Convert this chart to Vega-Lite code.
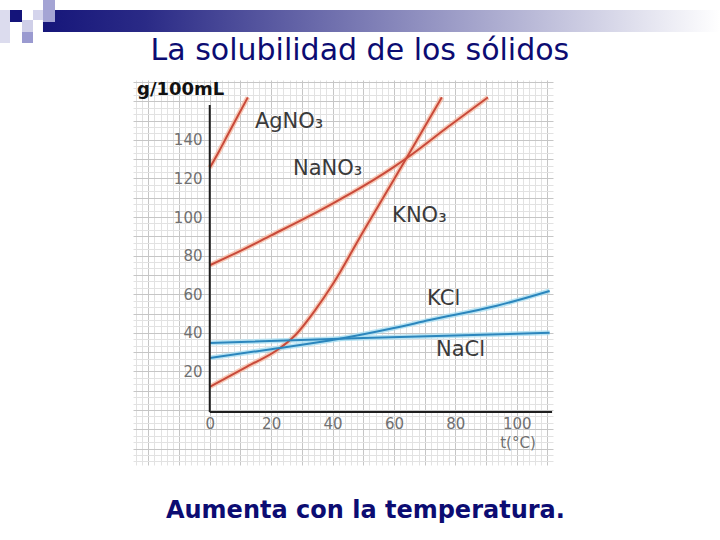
{
  "$schema": "https://vega.github.io/schema/vega-lite/v6.json",
  "width": 420,
  "height": 385,
  "autosize": "none",
  "padding": {"left": 133, "top": 80, "right": 167, "bottom": 75},
  "background": "white",
  "config": {"view": {"stroke": null}, "font": "DejaVu Sans"},
  "datasets": {
    "curves": [
      {"series": "AgNO3", "t": 0, "v": 125.5},
      {"series": "AgNO3", "t": 3, "v": 134},
      {"series": "AgNO3", "t": 6, "v": 143},
      {"series": "AgNO3", "t": 9, "v": 152},
      {"series": "AgNO3", "t": 12.4, "v": 162},
      {"series": "NaNO3", "t": 0, "v": 75},
      {"series": "NaNO3", "t": 10, "v": 82.5},
      {"series": "NaNO3", "t": 20, "v": 90.5},
      {"series": "NaNO3", "t": 30, "v": 98.5},
      {"series": "NaNO3", "t": 40, "v": 107},
      {"series": "NaNO3", "t": 50, "v": 116},
      {"series": "NaNO3", "t": 60, "v": 126},
      {"series": "NaNO3", "t": 65, "v": 131.5},
      {"series": "NaNO3", "t": 77, "v": 146},
      {"series": "NaNO3", "t": 90.6, "v": 162},
      {"series": "KNO3", "t": 0, "v": 12},
      {"series": "KNO3", "t": 12, "v": 22.4},
      {"series": "KNO3", "t": 22.8, "v": 32},
      {"series": "KNO3", "t": 28, "v": 39},
      {"series": "KNO3", "t": 34, "v": 51},
      {"series": "KNO3", "t": 40, "v": 65},
      {"series": "KNO3", "t": 50, "v": 92.5},
      {"series": "KNO3", "t": 60, "v": 119.5},
      {"series": "KNO3", "t": 65, "v": 133},
      {"series": "KNO3", "t": 75.6, "v": 162},
      {"series": "KCl", "t": 0, "v": 27},
      {"series": "KCl", "t": 20, "v": 31.5},
      {"series": "KCl", "t": 39, "v": 36},
      {"series": "KCl", "t": 60, "v": 42.5},
      {"series": "KCl", "t": 71.6, "v": 46.6},
      {"series": "KCl", "t": 93.5, "v": 54},
      {"series": "KCl", "t": 110.7, "v": 61.7},
      {"series": "NaCl", "t": 0, "v": 34.7},
      {"series": "NaCl", "t": 50, "v": 37.3},
      {"series": "NaCl", "t": 110.7, "v": 40}
    ],
    "labels": [
      {"label": "AgNO₃", "t": 14.7, "v": 146},
      {"label": "NaNO₃", "t": 27.1, "v": 121.8},
      {"label": "KNO₃", "t": 59.4, "v": 97.4},
      {"label": "KCl", "t": 70.8, "v": 54.4},
      {"label": "NaCl", "t": 73.7, "v": 28}
    ]
  },
  "resolve": {"scale": {"color": "independent"}},
  "layer": [
    {
      "data": {"name": "curves"},
      "mark": {"type": "line", "strokeWidth": 5, "opacity": 0.75, "interpolate": "monotone"},
      "encoding": {
        "x": {
          "field": "t",
          "type": "quantitative",
          "scale": {"domain": [-25, 111.8], "nice": false, "zero": false},
          "axis": {
            "orient": "bottom",
            "offset": -55,
            "title": null,
            "format": "d",
            "tickCount": 300,
            "values": [-24,-22,-20,-18,-16,-14,-12,-10,-8,-6,-4,-2,0,2,4,6,8,10,12,14,16,18,20,22,24,26,28,30,32,34,36,38,40,42,44,46,48,50,52,54,56,58,60,62,64,66,68,70,72,74,76,78,80,82,84,86,88,90,92,94,96,98,100,102,104,106,108,110],
            "grid": true,
            "gridColor": {"condition": {"test": "datum.value % 10 === 0", "value": "#c6c6c6"}, "value": "#e2e2e2"},
            "gridWidth": 1,
            "domain": false,
            "ticks": false,
            "tickSize": 0,
            "labelExpr": "datum.value >= 0 && datum.value <= 100 && datum.value % 20 === 0 ? datum.label : ''",
            "labelOverlap": false,
            "labelFlush": false,
            "labelBound": false,
            "labelFont": "DejaVu Sans",
            "labelFontSize": 15,
            "labelColor": "#707070",
            "labelPadding": 6
          }
        },
        "y": {
          "field": "v",
          "type": "quantitative",
          "scale": {"domain": [-28.5, 171], "nice": false, "zero": false},
          "axis": {
            "orient": "left",
            "offset": -77,
            "title": null,
            "format": "d",
            "tickCount": 300,
            "values": [-26.667,-23.333,-20,-16.667,-13.333,-10,-6.667,-3.333,0,3.333,6.667,10,13.333,16.667,20,23.333,26.667,30,33.333,36.667,40,43.333,46.667,50,53.333,56.667,60,63.333,66.667,70,73.333,76.667,80,83.333,86.667,90,93.333,96.667,100,103.333,106.667,110,113.333,116.667,120,123.333,126.667,130,133.333,136.667,140,143.333,146.667,150,153.333,156.667,160,163.333,166.667,170],
            "grid": true,
            "gridColor": {"condition": {"test": "datum.value % 10 === 0", "value": "#c6c6c6"}, "value": "#e2e2e2"},
            "gridWidth": 1,
            "domain": false,
            "ticks": false,
            "tickSize": 0,
            "labelExpr": "datum.value >= 20 && datum.value <= 140 && datum.value % 20 === 0 ? datum.label : ''",
            "labelOverlap": false,
            "labelFlush": false,
            "labelBound": false,
            "labelFont": "DejaVu Sans",
            "labelFontSize": 15,
            "labelColor": "#707070",
            "labelPadding": 8
          }
        },
        "color": {
          "field": "series",
          "type": "nominal",
          "scale": {"domain": ["AgNO3", "NaNO3", "KNO3", "KCl", "NaCl"], "range": ["#f5b8a0", "#f5b8a0", "#f5b8a0", "#a6dcf0", "#a6dcf0"]},
          "legend": null
        }
      }
    },
    {
      "data": {"name": "curves"},
      "mark": {"type": "line", "strokeWidth": 2, "interpolate": "monotone"},
      "encoding": {
        "x": {"field": "t", "type": "quantitative"},
        "y": {"field": "v", "type": "quantitative"},
        "color": {
          "field": "series",
          "type": "nominal",
          "scale": {"domain": ["AgNO3", "NaNO3", "KNO3", "KCl", "NaCl"], "range": ["#c94a3a", "#c94a3a", "#c94a3a", "#2b86bd", "#2b86bd"]},
          "legend": null
        }
      }
    },
    {
      "data": {"name": "labels"},
      "mark": {"type": "text", "align": "left", "baseline": "alphabetic", "font": "DejaVu Sans", "fontSize": 21, "color": "#3a3a3a"},
      "encoding": {
        "x": {"field": "t", "type": "quantitative"},
        "y": {"field": "v", "type": "quantitative"},
        "text": {"field": "label"}
      }
    },
    {
      "data": {"values": [{}]},
      "mark": {"type": "rule", "color": "#1e1e1e", "strokeWidth": 2},
      "encoding": {
        "x": {"datum": 0, "type": "quantitative"},
        "y": {"datum": -1, "type": "quantitative"},
        "y2": {"datum": 158}
      }
    },
    {
      "data": {"values": [{}]},
      "mark": {"type": "rule", "color": "#1e1e1e", "strokeWidth": 2},
      "encoding": {
        "x": {"datum": 0, "type": "quantitative"},
        "x2": {"datum": 111.5},
        "y": {"datum": -1, "type": "quantitative"}
      }
    },
    {
      "data": {"values": [{}]},
      "mark": {"type": "text", "text": "g/100mL", "align": "left", "baseline": "alphabetic", "font": "DejaVu Sans", "fontWeight": "bold", "fontSize": 18, "color": "#111111"},
      "encoding": {
        "x": {"datum": -23.7, "type": "quantitative"},
        "y": {"datum": 163.2, "type": "quantitative"}
      }
    },
    {
      "data": {"values": [{}]},
      "mark": {"type": "text", "text": "t(°C)", "align": "center", "baseline": "alphabetic", "font": "DejaVu Sans", "fontSize": 15, "color": "#707070"},
      "encoding": {
        "x": {"datum": 100.4, "type": "quantitative"},
        "y": {"datum": -19.7, "type": "quantitative"}
      }
    },
    {
      "data": {"values": [{}]},
      "mark": {"type": "text", "text": "La solubilidad de los sólidos", "align": "center", "baseline": "alphabetic", "font": "DejaVu Sans", "fontSize": 30, "color": "#0c0c72"},
      "encoding": {
        "x": {"datum": 48.9, "type": "quantitative"},
        "y": {"datum": 181.5, "type": "quantitative"}
      }
    },
    {
      "data": {"values": [{}]},
      "mark": {"type": "text", "text": "Aumenta con la temperatura.", "align": "center", "baseline": "alphabetic", "font": "DejaVu Sans", "fontWeight": "bold", "fontSize": 24, "color": "#0c0c72"},
      "encoding": {
        "x": {"datum": 50.7, "type": "quantitative"},
        "y": {"datum": -55.9, "type": "quantitative"}
      }
    },
    {
      "data": {"values": [{}]},
      "mark": {"type": "rect", "color": {"gradient": "linear", "x1": 0, "x2": 1, "y1": 0, "y2": 0, "stops": [{"offset": 0, "color": "#16167a"}, {"offset": 0.15, "color": "#2a2a86"}, {"offset": 1, "color": "#ffffff"}]}},
      "encoding": {
        "x": {"datum": -54.32, "type": "quantitative"},
        "x2": {"datum": 166.2},
        "y": {"datum": 207.27, "type": "quantitative"},
        "y2": {"datum": 195.87}
      }
    },
    {
      "data": {"values": [{}]},
      "mark": {"type": "rect", "color": "#dcdcee"},
      "encoding": {"x": {"datum": -68.32, "type": "quantitative"}, "x2": {"datum": -65.07}, "y": {"datum": 207.27, "type": "quantitative"}, "y2": {"datum": 190.17}}
    },
    {
      "data": {"values": [{}]},
      "mark": {"type": "rect", "color": "#14147a"},
      "encoding": {"x": {"datum": -65.07, "type": "quantitative"}, "x2": {"datum": -61.16}, "y": {"datum": 207.27, "type": "quantitative"}, "y2": {"datum": 201.05}}
    },
    {
      "data": {"values": [{}]},
      "mark": {"type": "rect", "color": "#cfcfe8"},
      "encoding": {"x": {"datum": -61.16, "type": "quantitative"}, "x2": {"datum": -57.57}, "y": {"datum": 202.09, "type": "quantitative"}, "y2": {"datum": 195.87}}
    },
    {
      "data": {"values": [{}]},
      "mark": {"type": "rect", "color": "#9a9ad0"},
      "encoding": {"x": {"datum": -61.16, "type": "quantitative"}, "x2": {"datum": -57.57}, "y": {"datum": 195.87, "type": "quantitative"}, "y2": {"datum": 190.17}}
    },
    {
      "data": {"values": [{}]},
      "mark": {"type": "rect", "color": "#d4d4ec"},
      "encoding": {"x": {"datum": -57.57, "type": "quantitative"}, "x2": {"datum": -54.32}, "y": {"datum": 207.27, "type": "quantitative"}, "y2": {"datum": 202.09}}
    },
    {
      "data": {"values": [{}]},
      "mark": {"type": "rect", "color": "#d8d8ee"},
      "encoding": {"x": {"datum": -54.32, "type": "quantitative"}, "x2": {"datum": -50.41}, "y": {"datum": 212.45, "type": "quantitative"}, "y2": {"datum": 207.27}}
    },
    {
      "data": {"values": [{}]},
      "mark": {"type": "rect", "color": "#a4a4d4"},
      "encoding": {"x": {"datum": -54.32, "type": "quantitative"}, "x2": {"datum": -50.41}, "y": {"datum": 212.45, "type": "quantitative"}, "y2": {"datum": 201.05}}
    }
  ]
}
